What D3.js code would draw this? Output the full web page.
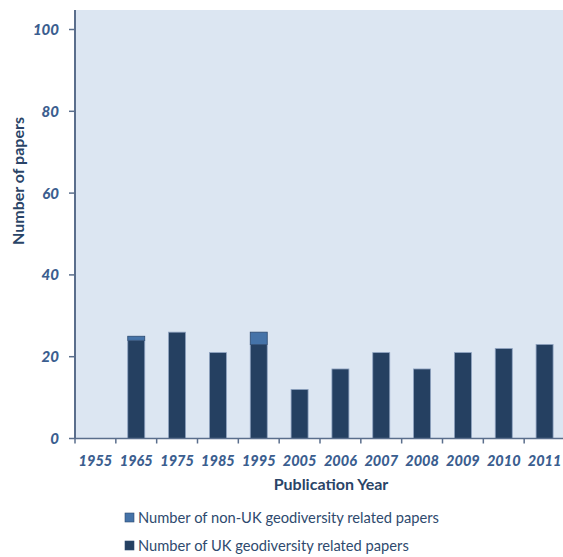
<!DOCTYPE html>
<html><head><meta charset="utf-8">
<script src="https://cdn.jsdelivr.net/npm/d3@7/dist/d3.min.js"></script>
<style>body{margin:0;background:#fff;}svg{display:block;font-family:Lato,"Open Sans",sans-serif;}</style>
</head><body>
<svg id="c" width="563" height="557"></svg>
<script>
const years = ["1955","1965","1975","1985","1995","2005","2006","2007","2008","2009","2010","2011"];
const ukPapers = [0,24,26,21,23,12,17,21,17,21,22,23];
const nonUkPapers = [0,1,0,0,3,0,0,0,0,0,0,0];
const yTicks = [0,20,40,60,80,100];
const seriesNames = ["Number of non-UK geodiversity related papers","Number of UK geodiversity related papers"];

const svg = d3.select("#c");
const L=75, R=565, T=10, B=438.5;
const x = d3.scaleBand().domain(years).range([L,R]);
const y = d3.scaleLinear().domain([0,100]).range([B,T+19.5]);
const axisCol="#5a6e8c", labCol="#3b5e8f", dark="#254061", light="#4573a8";

svg.append("rect").attr("x",L).attr("y",T).attr("width",563-L).attr("height",B-T).attr("fill","#dce6f2");

const bw=17;
const g=svg.append("g");
years.forEach((yr,i)=>{
  const cx=x(yr)+x.bandwidth()/2;
  if(ukPapers[i]>0) g.append("rect").attr("x",cx-bw/2).attr("y",y(ukPapers[i])).attr("width",bw).attr("height",y(0)-y(ukPapers[i]))
    .attr("fill",dark).attr("stroke","#8fa3c0").attr("stroke-width",0.8);
  if(nonUkPapers[i]>0) g.append("rect").attr("x",cx-bw/2).attr("y",y(ukPapers[i]+nonUkPapers[i])).attr("width",bw).attr("height",y(ukPapers[i])-y(ukPapers[i]+nonUkPapers[i]))
    .attr("fill",light).attr("stroke","#2c4a70").attr("stroke-width",0.8);
});

// axes
svg.append("line").attr("x1",L).attr("x2",L).attr("y1",T).attr("y2",B).attr("stroke",axisCol).attr("stroke-width",2);
svg.append("line").attr("x1",L).attr("x2",563).attr("y1",B).attr("y2",B).attr("stroke",axisCol).attr("stroke-width",1.5);
yTicks.forEach(v=>{
  svg.append("line").attr("x1",L-6).attr("x2",L).attr("y1",y(v)).attr("y2",y(v)).attr("stroke",axisCol).attr("stroke-width",1.5);
  svg.append("text").attr("x",59).attr("y",y(v)+5.5).attr("text-anchor","end").attr("fill",labCol)
    .attr("font-size",15).attr("font-weight","900").attr("font-style","italic").text(v);
});
years.forEach(yr=>{
  const bx=x(yr);
  svg.append("line").attr("x1",bx).attr("x2",bx).attr("y1",B).attr("y2",B+5).attr("stroke",axisCol).attr("stroke-width",1.5);
  svg.append("text").attr("x",bx+x.bandwidth()/2).attr("y",466).attr("text-anchor","middle").attr("fill",labCol)
    .attr("font-size",14.5).attr("font-weight","900").attr("font-style","italic").text(yr);
});
svg.append("text").attr("x",331).attr("y",490).attr("text-anchor","middle").attr("fill","#2a4467")
  .attr("font-size",16).attr("font-weight","bold").text("Publication Year");
svg.append("text").attr("transform","translate(24,181) rotate(-90)").attr("text-anchor","middle").attr("fill","#2a4467")
  .attr("font-size",16).attr("font-weight","bold").text("Number of papers");

// legend
const legCols=[light,dark];
seriesNames.forEach((n,i)=>{
  const ly=518+i*28;
  svg.append("rect").attr("x",125).attr("y",ly-5).attr("width",9).attr("height",9).attr("fill",legCols[i]).attr("stroke","#2c4a70").attr("stroke-width",0.6);
  svg.append("text").attr("x",138).attr("y",ly+5).attr("fill","#2e4a6e").attr("font-size",14.7).text(n);
});
</script>
</body></html>
